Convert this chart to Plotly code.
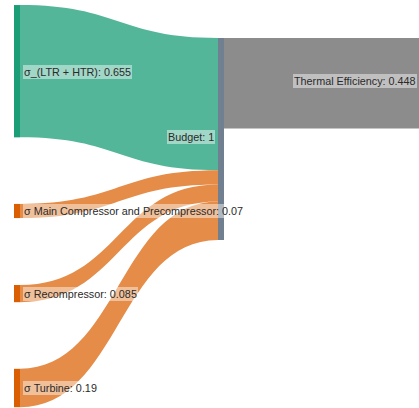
import plotly.graph_objects as go

# ---- data ----
node_names = ["σ_(LTR + HTR)", "σ Main Compressor and Precompressor",
              "σ Recompressor", "σ Turbine", "Budget", "Thermal Efficiency"]
node_values = [0.655, 0.07, 0.085, 0.19, 1, 0.448]
link_source = [0, 1, 2, 3, 4]
link_target = [4, 4, 4, 4, 5]
link_value = [0.655, 0.07, 0.085, 0.19, 0.448]

# ---- styles / layout ----
node_colors = ["#1b9e77", "#d95f02", "#d95f02", "#d95f02", "slategray", "#8c8c8c"]
link_colors = ["rgba(27,158,119,0.75)", "rgba(217,95,2,0.72)", "rgba(217,95,2,0.72)",
               "rgba(217,95,2,0.72)", "rgb(140,140,140)"]
W, H = 419, 408
THICK = 6
node_cx = [17, 17, 17, 17, 221, 423]          # node centre positions (px)
node_cy = [71.2, 211, 293.6, 388, 139, 83.3]
label_left = [False, False, False, False, True, True]
label_dy = [1, 0, 0, 0, -2, -2]               # small vertical offsets of labels (px)

labels = [f"{n}: {v:g}" for n, v in zip(node_names, node_values)]

fig = go.Figure(go.Sankey(
    arrangement="fixed",
    node=dict(label=[""] * len(labels), color=node_colors, thickness=THICK,
              pad=(H - 202) / 3,
              x=[cx / W for cx in node_cx], y=[cy / H for cy in node_cy],
              line=dict(width=0)),
    link=dict(source=link_source, target=link_target, value=link_value,
              color=link_colors),
    hoverinfo="none",
))

annotations = []
for lab, cx, cy, left, dy in zip(labels, node_cx, node_cy, label_left, label_dy):
    if left:
        ax, anchor = (cx - THICK / 2 - 3) / W, "right"
    else:
        ax, anchor = (cx + THICK / 2 + 3) / W, "left"
    annotations.append(dict(
        text=lab, x=ax, y=1 - (cy + dy) / H, xref="paper", yref="paper",
        xanchor=anchor, yanchor="middle", showarrow=False,
        font=dict(family="Arial", size=10.8, color="#2a2a2a"),
        bgcolor="rgba(255,255,255,0.45)", borderpad=1, borderwidth=0,
    ))

fig.update_layout(width=W, height=H, margin=dict(l=0, r=0, t=0, b=0),
                  paper_bgcolor="white", annotations=annotations)
fig.write_html("out.html")
